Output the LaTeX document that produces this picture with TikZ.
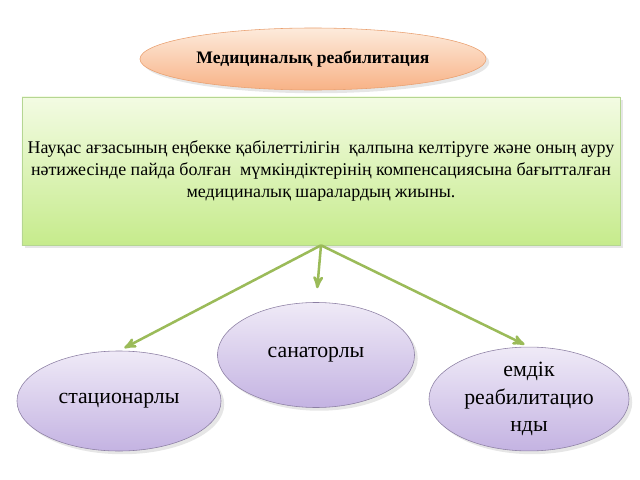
\documentclass[tikz,border=0pt]{standalone}
\usepackage{fontspec}
\setmainfont{Liberation Serif}
\usetikzlibrary{arrows,shapes.geometric,shadows}

\definecolor{arrowgreen}{HTML}{9BBB59}
\definecolor{peachtop}{HTML}{FDEBDC}
\definecolor{peachbot}{HTML}{F8B286}
\definecolor{peachline}{HTML}{E9A070}
\definecolor{limetop}{HTML}{F3FBE3}
\definecolor{limebot}{HTML}{C6EB8C}
\definecolor{limeline}{HTML}{B5D692}
\definecolor{lilactop}{HTML}{EFEAF7}
\definecolor{lilacbot}{HTML}{C4B3E2}
\definecolor{lilacline}{HTML}{8C7FA3}

\begin{document}
\begin{tikzpicture}[x=0.025cm,y=-0.025cm,>=stealth',
  titleoval/.style ={ellipse,draw=peachline,top color=peachtop,bottom color=peachbot,
                     drop shadow={opacity=0.2},minimum width=8.65cm,minimum height=1.55cm,
                     font=\fontsize{12.5}{15}\selectfont\bfseries},
  defbox/.style    ={rectangle,draw=limeline,top color=limetop,bottom color=limebot,
                     drop shadow={opacity=0.2},minimum width=14.95cm,minimum height=3.7cm,align=center,
                     font=\fontsize{12.75}{15.7}\selectfont},
  kindoval/.style  ={ellipse,draw=lilacline,top color=lilactop,bottom color=lilacbot,
                     drop shadow={opacity=0.2},align=center,inner sep=0pt,
                     font=\fontsize{15.5}{19.5}\selectfont},
  link/.style      ={->,draw=arrowgreen,line width=1.8pt}]
  \useasboundingbox (0,0) rectangle (640,480);

  \node[titleoval] (title) at (313,59) {Медициналық реабилитация};
  \node[defbox]    (def)   at (321,171)
    {Науқас ағзасының еңбекке қабілеттілігін\ \ қалпына келтіруге және оның ауру\\
     нәтижесінде пайда болған\ \ мүмкіндіктерінің компенсациясына бағытталған\\
     медициналық шаралардың жиыны.};

  \node[kindoval,minimum width=5.1cm,minimum height=2.5cm]     (stat) at (119,401) {стационарлы};
  \node[kindoval,minimum width=4.925cm,minimum height=2.625cm] (san)  at (316,355) {санаторлы};
  \node[kindoval,minimum width=5.0cm,minimum height=2.45cm]    (emd)  at (529,399) {емдік\\реабилитацио\\нды};

  \path (def.south) edge [link,shorten >=0.15cm]  (stat.north);
  \path (def.south) edge [link,shorten >=0.35cm]  (san.north);
  \path (def.south) edge [link,shorten >=0.125cm] (emd.north);
\end{tikzpicture}
\end{document}
